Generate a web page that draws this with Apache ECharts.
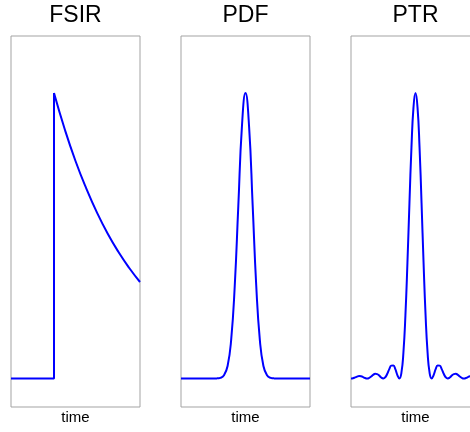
<!DOCTYPE html>
<html>
<head>
<meta charset="utf-8">
<script src="https://cdn.jsdelivr.net/npm/echarts@6/dist/echarts.min.js"></script>
<style>
html,body{margin:0;padding:0;background:#fff;}
#chart{width:470px;height:432px;}
</style>
</head>
<body>
<div id="chart"></div>
<script>
// Panel titles and axis label
const panelTitles = ['FSIR', 'PDF', 'PTR'];
const xAxisLabel = 'time';

// FSIR: step then exponential-like decay
const fsirStepTime  = [-1, 0, 0];
const fsirStepValue = [0, 0, 1];
const fsirDecayTime  = [0, 0.25, 0.5, 0.75, 1, 1.25, 1.5, 1.75, 2];
const fsirDecayValue = [1, 0.873, 0.762, 0.666, 0.581, 0.507, 0.443, 0.387, 0.338];

// PDF: bell-shaped pulse
const pdfTime  = [-4.5, -3, -2, -1.75, -1.5, -1.25, -1, -0.75, -0.5, -0.25, 0, 0.25, 0.5, 0.75, 1, 1.25, 1.5, 1.75, 2, 3, 4.5];
const pdfValue = [0, 0, 0.0003, 0.0022, 0.0111, 0.0439, 0.1353, 0.3247, 0.6065, 0.8825, 1, 0.8825, 0.6065, 0.3247, 0.1353, 0.0439, 0.0111, 0.0022, 0.0003, 0, 0];

// PTR: main lobe with side lobes
const ptrTime = [
  -4, -3.875, -3.75, -3.625, -3.5, -3.375, -3.25, -3.125,
  -3, -2.875, -2.75, -2.625, -2.5, -2.375, -2.25, -2.125,
  -2, -1.875, -1.75, -1.625, -1.5, -1.375, -1.25, -1.125,
  -1, -0.875, -0.75, -0.625, -0.5, -0.375, -0.25, -0.125,
  0, 0.125, 0.25, 0.375, 0.5, 0.625, 0.75, 0.875,
  1, 1.125, 1.25, 1.375, 1.5, 1.625, 1.75, 1.875,
  2, 2.125, 2.25, 2.375, 2.5, 2.625, 2.75, 2.875,
  3, 3.125, 3.25, 3.375, 3.5, 3.625, 3.75, 3.875, 4
];
const ptrValue = [
  0, 0.0010, 0.0036, 0.0066, 0.0083, 0.0076, 0.0048, 0.0015,
  0, 0.0018, 0.0067, 0.0126, 0.0162, 0.0153, 0.0100, 0.0033,
  0, 0.0042, 0.0165, 0.0328, 0.0450, 0.0457, 0.0324, 0.0117,
  0, 0.0194, 0.0901, 0.2214, 0.4053, 0.6150, 0.8106, 0.9497,
  1, 0.9497, 0.8106, 0.6150, 0.4053, 0.2214, 0.0901, 0.0194,
  0, 0.0117, 0.0324, 0.0457, 0.0450, 0.0328, 0.0165, 0.0042,
  0, 0.0033, 0.0100, 0.0153, 0.0162, 0.0126, 0.0067, 0.0018,
  0, 0.0015, 0.0048, 0.0076, 0.0083, 0.0066, 0.0036, 0.0010, 0
];

const zip = (xs, ys) => xs.map((x, i) => [x, ys[i]]);

const lineColor = '#0000ff';
const boxColor = '#a3a3a3';
const panelLeft = [11, 181, 351];
const panelWidth = 129;
const panelTop = 36;
const panelHeight = 371;
const xRanges = [[-1, 2], [-4.5, 4.5], [-4, 4]];
const yMin = -0.1, yMax = 1.2;

const grids = panelLeft.map(l => ({
  left: l, width: panelWidth, top: panelTop, height: panelHeight,
  outerBoundsMode: 'none', containLabel: false,
  show: true, borderColor: boxColor, borderWidth: 1, backgroundColor: 'transparent'
}));
const hiddenAxis = {
  show: false, axisLine: {show: false}, axisTick: {show: false},
  axisLabel: {show: false}, splitLine: {show: false}
};
const xAxes = xRanges.map((r, i) => Object.assign({type: 'value', gridIndex: i, min: r[0], max: r[1]}, hiddenAxis));
const yAxes = [0, 1, 2].map(i => Object.assign({type: 'value', gridIndex: i, min: yMin, max: yMax}, hiddenAxis));

const lineStyle = {color: lineColor, width: 2};
const baseSeries = {type: 'line', showSymbol: false, symbol: 'none', lineStyle: lineStyle, animation: false, silent: true};

const series = [
  Object.assign({}, baseSeries, {xAxisIndex: 0, yAxisIndex: 0, data: zip(fsirStepTime, fsirStepValue)}),
  Object.assign({}, baseSeries, {xAxisIndex: 0, yAxisIndex: 0, smooth: true, data: zip(fsirDecayTime, fsirDecayValue)}),
  Object.assign({}, baseSeries, {xAxisIndex: 1, yAxisIndex: 1, smooth: true, data: zip(pdfTime, pdfValue)}),
  Object.assign({}, baseSeries, {xAxisIndex: 2, yAxisIndex: 2, smooth: true, data: zip(ptrTime, ptrValue)})
];

const graphics = [];
panelLeft.forEach((l, i) => {
  graphics.push({type: 'text', x: l + panelWidth / 2, y: 16,
    style: {text: panelTitles[i], font: '23px "Liberation Sans", Arial, sans-serif', fill: '#000', align: 'center', verticalAlign: 'middle'}});
  graphics.push({type: 'text', x: l + panelWidth / 2, y: 418,
    style: {text: xAxisLabel, font: '15px "Liberation Sans", Arial, sans-serif', fill: '#000', align: 'center', verticalAlign: 'middle'}});
});

const chart = echarts.init(document.getElementById('chart'), null, {renderer: 'canvas'});
chart.setOption({
  backgroundColor: '#ffffff',
  animation: false,
  grid: grids,
  xAxis: xAxes,
  yAxis: yAxes,
  series: series,
  graphic: graphics
});
</script>
</body>
</html>
